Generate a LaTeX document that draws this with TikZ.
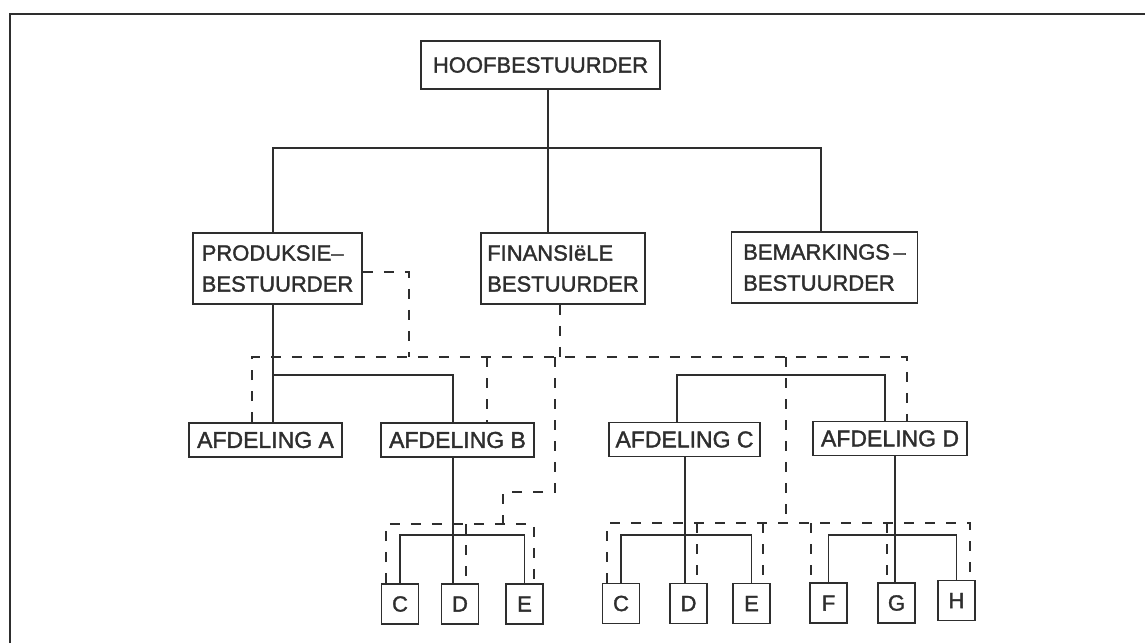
\documentclass[tikz,border=0pt]{standalone}
\usepackage{fontspec}
\setmainfont{Liberation Sans}[FakeBold=1.6]
\usetikzlibrary{calc}
\definecolor{ink}{HTML}{2e2e2e}
\newcommand\boxfont{\fontsize{22}{31}\selectfont}
\newcommand\afdfont{\fontsize{23}{31}\selectfont}
\tikzset{
  solidline/.style={draw=ink, line width=1.4pt},
  dline/.style={draw=ink, line width=1.4pt, dash pattern=on 10pt off 11pt},
  orgbox/.style={draw=ink, line width=1.6pt, inner sep=0pt, text=ink, font=\boxfont, align=left},
  afdbox/.style={orgbox, font=\afdfont, minimum height=34pt},
  smallbox/.style={orgbox, minimum width=37pt, minimum height=40pt},
}
\begin{document}
\begin{tikzpicture}[x=1pt,y=-1pt]
\useasboundingbox (0,0) rectangle (1145,643);
% frame (cut by the page at right and bottom)
\draw[ink, line width=2pt] (10,643) -- (10,14) -- (1145,14);

% top level
\node[orgbox, minimum width=239pt, minimum height=48pt] (hoof) at (540.5,65) {HOOFBESTUURDER};
\node[orgbox, minimum width=169pt, minimum height=71pt] (prod) at (277.5,268.5) {PRODUKSIE–\\BESTUURDER};
\node[orgbox, minimum width=164pt, minimum height=71pt] (fin) at (563,268.5) {FINANSIëLE\\BESTUURDER};
\node[orgbox, minimum width=186pt, minimum height=71pt] (bem) at (824.5,267.5) {BEMARKINGS\,–\\BESTUURDER};

% departments
\node[afdbox, minimum width=153pt] (afa) at (265.5,440) {AFDELING A};
\node[afdbox, minimum width=153pt] (afb) at (457.5,440) {AFDELING B};
\node[afdbox, minimum width=151pt] (afc) at (684.5,439.5) {AFDELING C};
\node[afdbox, minimum width=154pt] (afd) at (890,438.5) {AFDELING D};

% small units
\node[smallbox] (bc) at (400,604) {C};
\node[smallbox] (bd) at (460,604) {D};
\node[smallbox] (be) at (524.5,604) {E};
\node[smallbox] (cc) at (621,603.5) {C};
\node[smallbox] (cd) at (688.5,603.5) {D};
\node[smallbox] (ce) at (751.5,603.5) {E};
\node[smallbox] (df) at (828.5,603) {F};
\node[smallbox] (dg) at (896.5,603) {G};
\node[smallbox] (dh) at (956.5,600.5) {H};

% junction coordinates
\coordinate (j0) at (548,148);
\coordinate (bl) at (273,148);
\coordinate (br) at (821,148);
\coordinate (j1) at (273,375);
\coordinate (j1r) at (453,375);
\coordinate (k1) at (677,375);
\coordinate (k2) at (885,375);
\coordinate (b0) at (453,535);
\coordinate (c0) at (685,535);
\coordinate (d0) at (895,535);

% solid connectors
\draw[solidline] (hoof.south -| j0) -- (fin.north -| j0);
\draw[solidline] (prod.north -| bl) -- (bl) -- (br) -- (bem.north -| br);
\draw[solidline] (prod.south -| j1) -- (afa.north -| j1);
\draw[solidline] (j1) -- (j1r) -- (afb.north -| j1r);
\draw[solidline] (afc.north -| k1) -- (k1) -- (k2) -- (afd.north -| k2);
\draw[solidline] (afb.south -| b0) -- (bd.north -| b0);
\draw[solidline] (bc.north) -- (bc.north |- b0) -- (be.north |- b0) -- (be.north);
\draw[solidline] (afc.south -| c0) -- (cd.north -| c0);
\draw[solidline] (cc.north) -- (cc.north |- c0) -- (ce.north |- c0) -- (ce.north);
\draw[solidline] (afd.south -| d0) -- (dg.north -| d0);
\draw[solidline] (df.north) -- (df.north |- d0) -- (dh.north |- d0) -- (dh.north);

% dashed coordinates
\coordinate (q1) at (409,272);
\coordinate (hl) at (252,357);
\coordinate (hr) at (907,357);
\coordinate (f1) at (560,357);
\coordinate (g1) at (487,357);
\coordinate (s1) at (555,357);
\coordinate (s2) at (555,492);
\coordinate (s3) at (503,492);
\coordinate (s4) at (503,524);
\coordinate (bt1) at (386,524);
\coordinate (bt2) at (534,524);
\coordinate (bt3) at (466,524);
\coordinate (m1) at (786,357);
\coordinate (m2) at (786,523);
\coordinate (ct1) at (607,523);
\coordinate (ct2) at (697,523);
\coordinate (ct3) at (763,523);
\coordinate (dt1) at (811,523);
\coordinate (dt2) at (887,523);
\coordinate (dt3) at (970,523);

% dashed connectors
\draw[dline] (prod.east |- q1) -- (q1) -- (q1 |- hl);
\draw[dline] (afa.north -| hl) -- (hl) -- (hr) -- (afd.north -| hr);
\draw[dline] (fin.south -| f1) -- (f1);
\draw[dline] (g1) -- (afb.north -| g1);
\draw[dline] (s1) -- (s2) -- (s3) -- (s4);
\draw[dline] (bc.north -| bt1) -- (bt1) -- (bt2) -- (be.north -| bt2);
\draw[dline] (bt3) -- (bd.north -| bt3);
\draw[dline] (m1) -- (m2);
\draw[dline] (cc.north -| ct1) -- (ct1) -- (dt3) -- (dh.north -| dt3);
\draw[dline] (ct2) -- (cd.north -| ct2);
\draw[dline] (ct3) -- (ce.north -| ct3);
\draw[dline] (dt1) -- (df.north -| dt1);
\draw[dline] (dt2) -- (dg.north -| dt2);
\end{tikzpicture}
\end{document}
